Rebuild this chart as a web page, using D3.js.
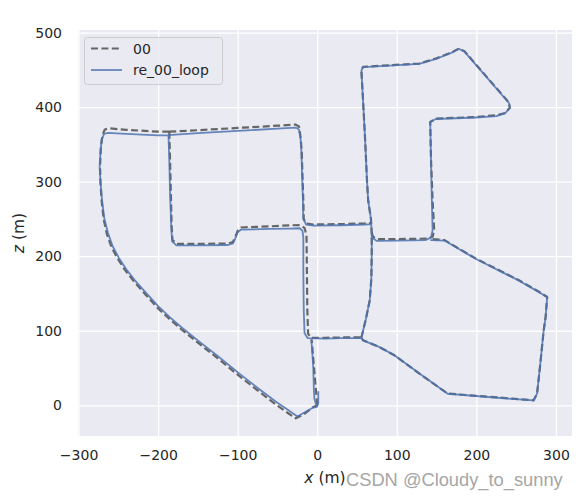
<!DOCTYPE html>
<html>
<head>
<meta charset="utf-8">
<script src="https://cdn.jsdelivr.net/npm/d3@7"></script>
<style>
  html, body { margin: 0; padding: 0; background: #ffffff; }
  svg { display: block; }
</style>
</head>
<body>
<svg id="chart" width="580" height="500"></svg>
<script>
// ---------------- data (metres) ----------------
const xTicks = [-300, -200, -100, 0, 100, 200, 300];
const zTicks = [0, 100, 200, 300, 400, 500];
const seriesNames = ["00", "re_00_loop"];

// ground truth "00" (x, z) – null breaks the polyline
const gtPath = [
  [0,0],[-2,25],[-4,50],[-6,75],[-7,88], null,
  [-186,367],[-185,330],[-184,284],[-183,240],[-182,222],[-177,216.5],[-150,216.5],[-112,217],[-106,219],[-103,226],[-100,234],[-96,238.5],[-60,240],[-34,241.4],[-22,241.8],[-16,238],[-13.5,228],[-13,180],[-12.5,130],[-11.5,96],[-8,90.5],[10,90.5],[30,91],[55.5,91], null,
  [-186,367],[-150,369],[-100,372],[-50,375],[-27,376.5],[-23,374],[-21,360],[-19.6,342],[-17.5,275],[-17,250],[-14,244],[-5,242.5],[30,243],[60,244],[67,244.5], null,
  [55.5,91],[61,115],[66,141],[68,170],[68.5,203],[68.5,230],[67.5,250],[64,275],[62.5,302],[60,360],[57,420],[55.5,449],[57.5,454],[80,455.5],[128,458.3],[149,465],[170,474],[178,478.5],[185,475],[241,406],[242,399],[236,392],[225,389],[199,386.7],[149,384.5],[142,380],[143,329],[145,275],[147,235],[145,226],[138,223.5],[100,223],[75,223],[70,226],[68.5,232], null,
  [145,223],[160,221.5],[199,197],[212,190],[253,168],[276,154],[289,145.3],[287,118],[284.6,100.6],[280.4,56],[276.3,15.7],[272,6.7],[245,9],[164,15.7],[128.4,42.5],[97,67],[78.4,78],[57.5,87.2],[55.5,91], null,
  [-186,367],[-200,367],[-240,369.5],[-262,371.5],[-267,370],[-270,362],[-272,345],[-273,320],[-272.5,300],[-271,275],[-268.5,250],[-264.5,230],[-258.5,212],[-251,197],[-242,182],[-231,167],[-217,150],[-201,131],[-186,116],[-171,102],[-150,84],[-125,63],[-100,41],[-75,20],[-52,1],[-36,-11],[-27,-17.5],[-18,-13],[-6,-3],[0,0]
];

// estimate "re_00_loop" (x, z)
const estPath = [
  [-0.5,-2],[1.3,3],[1.3,18], null,
  [-0.5,-2],[-3.5,8],[-4.2,20],[-5,50],[-6.5,75],[-7.5,88], null,
  [-187,362.5],[-186,330],[-185,284],[-183.5,240],[-182.5,220],[-177,214.5],[-150,214.5],[-112,215],[-106,217],[-103,224],[-100,232],[-96,235.5],[-60,236.5],[-34,237],[-22,237.5],[-18.5,234],[-17.5,225],[-17.5,180],[-17,130],[-16,97],[-12,90],[10,89.5],[30,90],[55.5,90.5], null,
  [-187,362.5],[-150,365],[-100,368],[-50,371],[-27,372.5],[-23,370],[-21,358],[-20,342],[-18,275],[-17.5,250],[-14,242.5],[-5,241],[30,241.5],[60,242.5],[67,243], null,
  [55.5,90.5],[61,115],[66,141],[68,170],[68.5,203],[68.5,230],[67.5,250],[64,275],[62.5,302],[60,360],[57,420],[55.5,449],[57.5,453.5],[80,455],[128,458],[149,464.5],[170,473.5],[178,478],[185,474.5],[241,405.5],[242,398.5],[236,391.5],[225,388],[199,386],[149,384],[142,380],[143,329],[144,275],[145,235],[143,225],[136,221.5],[100,221],[75,220.5],[70,224],[68.5,230], null,
  [143,221.5],[160,221],[199,196.5],[212,189.5],[253,167.5],[276,153.5],[289,145],[287,118],[284.6,100.6],[280.4,56],[276.3,15.7],[272,6.5],[245,8.5],[164,15.5],[128.4,42.5],[97,67],[78.4,78],[57.5,87],[55.5,90.5], null,
  [-187,362.5],[-200,362],[-240,364],[-263,365.5],[-268,364],[-271,356],[-272.5,340],[-273.5,320],[-272.5,300],[-270.5,275],[-267.5,250],[-263,231],[-257,213],[-249.5,198],[-240.5,183],[-229.5,168],[-215.5,151],[-200,133],[-185,118],[-170,104],[-149,86],[-124,65],[-99,43.5],[-74,22.5],[-51,4],[-37,-6],[-25,-15],[-15,-9],[-5,-3],[-0.5,-2]
];

// ---------------- layout ----------------
const svg = d3.select("#chart");
const plot = { left: 78, right: 572, top: 30, bottom: 436 };
const x = d3.scaleLinear().domain([-300.7, 320.2]).range([plot.left, plot.right]);
const y = d3.scaleLinear().domain([-41.2, 503.4]).range([plot.bottom, plot.top]);
const FONT = "DejaVu Sans, sans-serif";
const TXT = "#262626";

svg.append("rect").attr("width", 580).attr("height", 500).attr("fill", "#ffffff");
svg.append("rect")
  .attr("x", plot.left).attr("y", plot.top)
  .attr("width", plot.right - plot.left).attr("height", plot.bottom - plot.top)
  .attr("fill", "#EAEAF2");

svg.append("defs").append("clipPath").attr("id", "clip")
  .append("rect").attr("x", plot.left).attr("y", plot.top)
  .attr("width", plot.right - plot.left).attr("height", plot.bottom - plot.top);

// grid via axes
const fmt = d => (d < 0 ? "\u2212" + Math.abs(d) : String(d));
const gx = svg.append("g").attr("transform", `translate(0,${plot.bottom})`)
  .call(d3.axisBottom(x).tickValues(xTicks).tickSize(-(plot.bottom - plot.top)).tickPadding(16).tickFormat(fmt));
const gy = svg.append("g").attr("transform", `translate(${plot.left},0)`)
  .call(d3.axisLeft(y).tickValues(zTicks).tickSize(-(plot.right - plot.left)).tickPadding(16).tickFormat(fmt));
[gx, gy].forEach(g => {
  g.select(".domain").remove();
  g.selectAll(".tick line").attr("stroke", "#ffffff").attr("stroke-width", 1.3);
  g.selectAll(".tick text").attr("fill", TXT).style("font-family", FONT).style("font-size", "14px");
});
gx.selectAll(".tick text").attr("dy", "0.71em").attr("y", 14);
gy.selectAll(".tick text").attr("x", -16);

// lines
const line = d3.line().defined(d => d !== null).x(d => x(d[0])).y(d => y(d[1])).curve(d3.curveLinear);
const lines = svg.append("g").attr("clip-path", "url(#clip)");
lines.append("path").datum(gtPath).attr("d", line)
  .attr("fill", "none").attr("stroke", "#666666").attr("stroke-width", 2.2)
  .attr("stroke-dasharray", "7,3.4").attr("stroke-linejoin", "round");
lines.append("path").datum(estPath).attr("d", line)
  .attr("fill", "none").attr("stroke", "#4C72B0").attr("stroke-width", 1.8)
  .attr("stroke-opacity", 0.85).attr("stroke-linejoin", "round").attr("stroke-linecap", "round");

// axis labels
const xl = svg.append("text").attr("x", 325).attr("y", 483).attr("text-anchor", "middle")
  .attr("fill", TXT).style("font-family", FONT).style("font-size", "15.5px");
xl.append("tspan").style("font-style", "italic").text("x");
xl.append("tspan").text(" (m)");
const yl = svg.append("text").attr("transform", "translate(24,233) rotate(-90)").attr("text-anchor", "middle")
  .attr("fill", TXT).style("font-family", FONT).style("font-size", "15.5px");
yl.append("tspan").style("font-style", "italic").text("z");
yl.append("tspan").text(" (m)");

// legend
const lg = svg.append("g");
lg.append("rect").attr("x", 84.5).attr("y", 37.5).attr("width", 138).attr("height", 47).attr("rx", 3)
  .attr("fill", "#EAEAF2").attr("fill-opacity", 0.8).attr("stroke", "#cccccc").attr("stroke-width", 1);
const legY = [48.5, 70];
lg.append("line").attr("x1", 91).attr("x2", 122).attr("y1", legY[0]).attr("y2", legY[0])
  .attr("stroke", "#666666").attr("stroke-width", 2.2).attr("stroke-dasharray", "7,3.4");
lg.append("line").attr("x1", 91).attr("x2", 122).attr("y1", legY[1]).attr("y2", legY[1])
  .attr("stroke", "#4C72B0").attr("stroke-width", 1.8).attr("stroke-opacity", 0.85);
seriesNames.forEach((n, i) => {
  lg.append("text").attr("x", 133).attr("y", legY[i]).attr("dy", "0.36em")
    .attr("fill", TXT).style("font-family", FONT).style("font-size", "14px").text(n);
});

// watermark
svg.append("text").attr("x", 346).attr("y", 486)
  .attr("fill", "#a6a6a6").style("font-family", "Liberation Sans, Arial, sans-serif").style("font-size", "18.3px")
  .text("CSDN @Cloudy_to_sunny");
</script>
</body>
</html>
